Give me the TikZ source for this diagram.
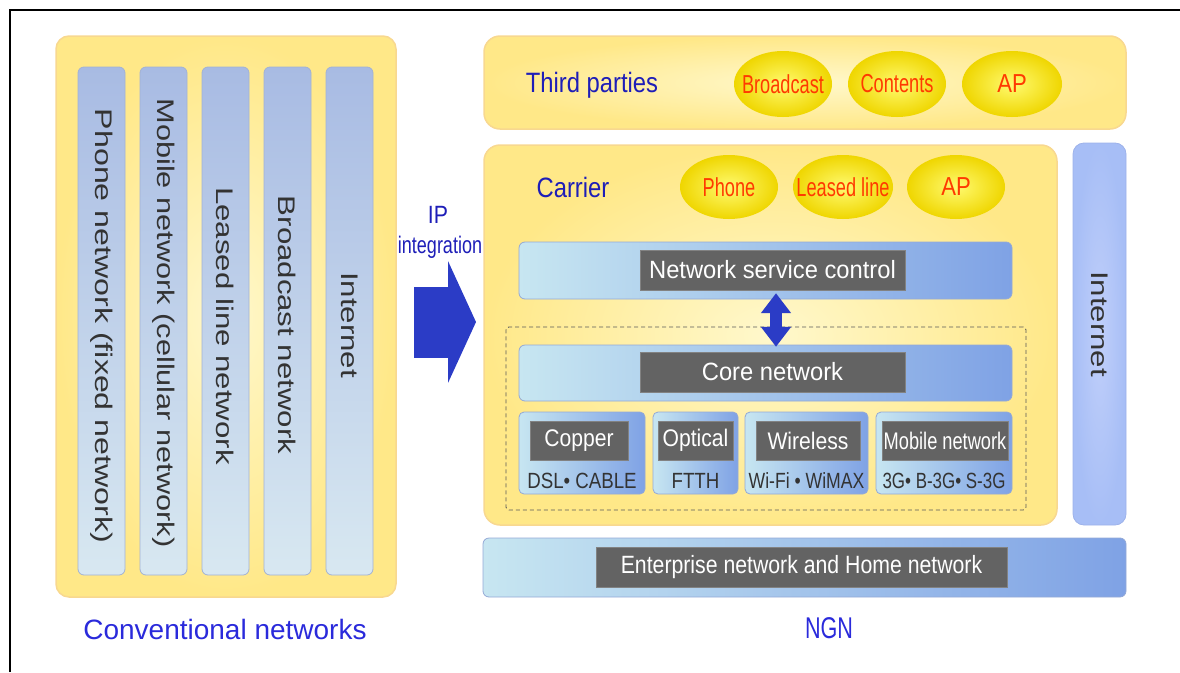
\documentclass[tikz,border=0pt]{standalone}
\usepackage{fontspec}
\setmainfont{Liberation Sans}
\usepackage{graphicx}
\usetikzlibrary{shapes.geometric,arrows.meta,fit,calc}
\definecolor{ybase}{HTML}{FFE888}
\definecolor{ylight}{HTML}{FFF8CC}
\definecolor{yedge}{HTML}{F8D890}
\definecolor{coltop}{HTML}{A8BBE3}
\definecolor{colbot}{HTML}{D8E8F1}
\definecolor{coledge}{HTML}{A2B2D4}
\definecolor{barL}{HTML}{C7E6F1}
\definecolor{barR}{HTML}{7FA2E5}
\definecolor{baredge}{HTML}{94A9D6}
\definecolor{darklab}{HTML}{636363}
\definecolor{ttxt}{HTML}{1E1EB8}
\definecolor{btxt}{HTML}{2A2ADB}
\definecolor{redtxt}{HTML}{FF3A00}
\definecolor{ballin}{HTML}{FFFA70}
\definecolor{ballout}{HTML}{EFD600}
\definecolor{arrowblue}{HTML}{2B3CC6}
\definecolor{netin}{HTML}{C0CFFA}
\definecolor{netout}{HTML}{A7BEF6}
\definecolor{netedge}{HTML}{9DB2EA}
\definecolor{graytxt}{HTML}{333333}
\newcommand{\myfs}[1]{\fontsize{#1}{#1}\selectfont}
\newcommand{\sx}[2]{\scalebox{#1}[1]{#2}}
\begin{document}
\begin{tikzpicture}[x=1pt,y=-1pt,
  ypanel/.style={draw=yedge, line width=1.5pt, rounded corners=13pt, inner color=ylight, outer color=ybase, inner sep=0pt},
  colbox/.style={draw=coledge, line width=0.8pt, rounded corners=6pt, top color=coltop, bottom color=colbot, inner sep=0pt},
  coltext/.style={rotate=-90, text=graytxt, font=\myfs{24}},
  barbox/.style={draw=baredge, line width=0.8pt, rounded corners=6pt, left color=barL, right color=barR, inner sep=0pt},
  lab/.style={fill=darklab, draw=darklab!80!white, text=white, inner sep=0pt},
  subtext/.style={text=graytxt, font=\myfs{22}},
  ball/.style={ellipse, inner color=ballin, outer color=ballout, inner sep=0pt},
  balltext/.style={text=redtxt, font=\myfs{26}},
  bluetitle/.style={text=ttxt, font=\myfs{28}},
  captext/.style={text=btxt},
  netbox/.style={draw=netedge, line width=0.8pt, rounded corners=11pt, inner color=netin, outer color=netout, inner sep=0pt},
  dbox/.style={draw=black!65, line width=0.9pt, dash pattern=on 4pt off 3pt, rounded corners=3pt, inner sep=0pt},
  bigarrow/.style={draw=arrowblue, line width=71pt, -{Triangle[length=28pt,width=121pt]}},
  dblarrow/.style={draw=arrowblue, line width=12pt, {Triangle[length=20pt,width=29pt]}-{Triangle[length=20pt,width=29pt]}}
]
\useasboundingbox (0,0) rectangle (1180,672);
% frame
\draw[line width=2.8pt] (10,672) -- (10,10) -- (1180,10);

% ---------- Conventional networks ----------
\node[ypanel, fit={(56,36)(396,597)}] (conv) {};
\node[colbox, fit={(78,67)(125,575)}] (c1) {};
\node[colbox, fit={(140,67)(187,575)}] (c2) {};
\node[colbox, fit={(202,67)(249,575)}] (c3) {};
\node[colbox, fit={(264,67)(311,575)}] (c4) {};
\node[colbox, fit={(326,67)(373,575)}] (c5) {};
\node[coltext] (t1) at ([yshift=-5pt]c1.center) {\sx{1.34}{Phone network (fixed network)}};
\node[coltext] (t2) at ([yshift=-2pt]c2.center) {\sx{1.28}{Mobile network (cellular network)}};
\node[coltext] (t3) at ([yshift=-5pt]c3.center) {\sx{1.3}{Leased line network}};
\node[coltext] (t4) at ([yshift=-4pt]c4.center) {\sx{1.3}{Broadcast network}};
\node[coltext] (t5) at ([yshift=-4pt]c5.center) {\sx{1.3}{Internet}};
\node[captext, font=\myfs{28}] (convlab) at (225,629) {Conventional networks};

% ---------- IP integration ----------
\node[text=ttxt, font=\myfs{25}] (ip) at (438,215) {\sx{0.85}{IP}};
\node[text=ttxt, font=\myfs{24}] (integ) at (440,247) {\sx{0.75}{integration}};
\coordinate (ipA) at (414,322);
\coordinate (ipB) at (476,322);
\draw[bigarrow] (ipA) -- (ipB);

% ---------- Third parties ----------
\node[ypanel, rounded corners=16pt, fit={(484,36)(1126,129)}] (third) {};
\node[bluetitle] (thirdlab) at (592,85) {\sx{0.85}{Third parties}};
\node[ball, minimum width=98pt, minimum height=66pt] (b1) at (783,84) {};
\node[ball, minimum width=98pt, minimum height=66pt] (b2) at (897,84) {};
\node[ball, minimum width=100pt, minimum height=66pt] (b3) at (1012,84) {};
\node[balltext] at (b1.center) {\sx{0.7}{Broadcast}};
\node[balltext] at (b2.center) {\sx{0.7}{Contents}};
\node[balltext] at (b3.center) {\sx{0.85}{AP}};

% ---------- Carrier ----------
\node[ypanel, rounded corners=16pt, fit={(484,145)(1057,525)}] (carrier) {};
\node[bluetitle] (carrierlab) at (573,187) {\sx{0.85}{Carrier}};
\node[ball, minimum width=98pt, minimum height=64pt] (p1) at (729,187) {};
\node[ball, minimum width=100pt, minimum height=64pt] (p2) at (843,187) {};
\node[ball, minimum width=98pt, minimum height=64pt] (p3) at (956,187) {};
\node[balltext] at (p1.center) {\sx{0.7}{Phone}};
\node[balltext] at (p2.center) {\sx{0.7}{Leased line}};
\node[balltext] at (p3.center) {\sx{0.85}{AP}};

\node[barbox, fit={(519,242)(1012,299)}] (nsc) {};
\node[lab, minimum width=265pt, minimum height=40pt, font=\myfs{25}] (nsclab) at (772.5,270) {\sx{0.95}{Network service control}};

\node[dbox, fit={(506,327)(1026,510)}] (access) {};

\node[barbox, fit={(519,345)(1012,401)}] (core) {};
\node[lab, minimum width=265pt, minimum height=40pt, font=\myfs{25}] (corelab) at (772.5,372) {\sx{0.95}{Core network}};

\draw[dblarrow] ([xshift=3.5pt,yshift=-3pt]nsclab.south) -- ([xshift=3.5pt,yshift=5pt]corelab.north);

\node[barbox, rounded corners=5pt, fit={(519,412)(645,494)}] (cu) {};
\node[barbox, rounded corners=5pt, fit={(653,412)(738,494)}] (op) {};
\node[barbox, rounded corners=5pt, fit={(745,412)(868,494)}] (wl) {};
\node[barbox, rounded corners=5pt, fit={(876,412)(1012,494)}] (mb) {};
\node[lab, minimum width=98pt, minimum height=39pt, font=\myfs{24}] (culab) at (579,440.5) {\sx{0.88}{Copper}};
\node[lab, minimum width=75pt, minimum height=39pt, font=\myfs{24}] (oplab) at (695.5,440.5) {\sx{0.88}{Optical}};
\node[lab, minimum width=104pt, minimum height=39pt, font=\myfs{24}] (wllab) at (808,440.5) {\sx{0.88}{Wireless}};
\node[lab, minimum width=126pt, minimum height=39pt, font=\myfs{24}] (mblab) at (945,440.5) {\sx{0.76}{Mobile network}};
\node[subtext] at (582,481) {\sx{0.85}{DSL• CABLE}};
\node[subtext] at (695.5,481) {\sx{0.85}{FTTH}};
\node[subtext] at (806.5,481) {\sx{0.8}{Wi-Fi • WiMAX}};
\node[subtext] at (944,481) {\sx{0.77}{3G• B-3G• S-3G}};

% ---------- Internet (NGN side) ----------
\node[netbox, fit={(1073,143)(1126,525)}] (inet) {};
\node[coltext] (inettext) at ([yshift=10pt]inet.center) {\sx{1.3}{Internet}};

% ---------- Enterprise ----------
\node[barbox, fit={(483,538)(1126,597)}] (ent) {};
\node[lab, minimum width=411pt, minimum height=40pt, font=\myfs{25}] (entlab) at (801.5,567) {\sx{0.85}{Enterprise network and Home network}};

\node[captext, font=\myfs{30}] (ngn) at (829,628) {\sx{0.72}{NGN}};
\end{tikzpicture}
\end{document}
